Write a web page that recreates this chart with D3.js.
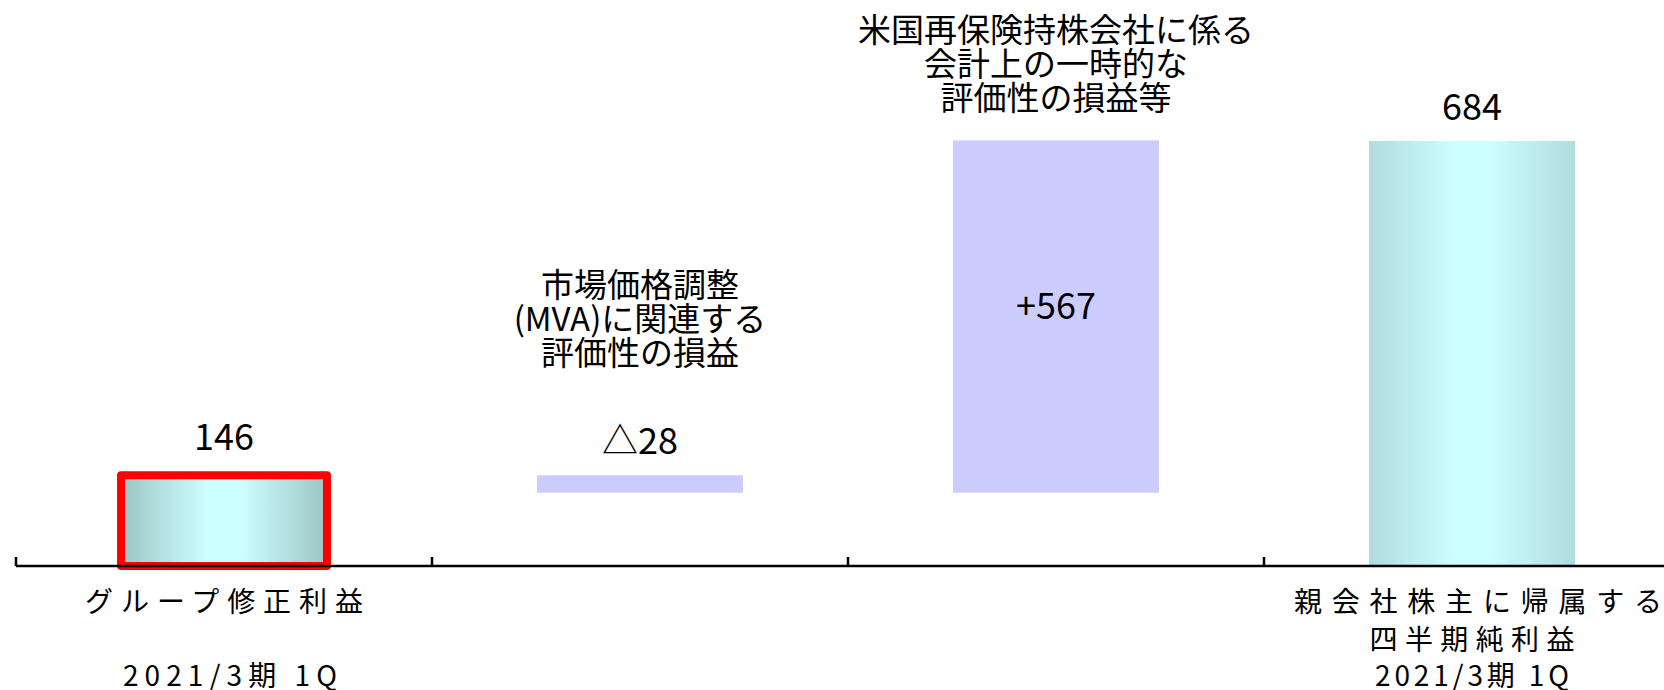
<!DOCTYPE html>
<html>
<head>
<meta charset="utf-8">
<script src="https://cdn.jsdelivr.net/npm/d3@7"></script>
<style>
  html, body { margin: 0; padding: 0; background: #fff; }
  svg { display: block; }
</style>
</head>
<body>
<script>
// ----------------------------------------------------------- //
// data

// waterfall steps, left to right
const steps = ["group", "mva", "usre", "net"];
// start total, two changes, end total
const values = [146, -28, 567, 684];
const kinds = ["total", "delta", "delta", "total"];
// text written on / above each bar
const valueLabels = ["146", "△28", "+567", "684"];
// notes over the change bars
const notes = [
  [],
  ["市場価格調整", "(MVA)に関連する", "評価性の損益"],
  ["米国再保険持株会社に係る", "会計上の一時的な", "評価性の損益等"],
  []
];
// category labels under the axis (one entry per line)
const catLabels = [
  ["グループ修正利益", "", "2021/3期 1Q"],
  [],
  [],
  ["親会社株主に帰属する", "四半期純利益", "2021/3期 1Q"]
];

// ----------------------------------------------------------- //
// layout

var width = 1664;
var height = 690;
var font = "'Noto Sans CJK JP', 'Noto Sans', sans-serif";
var axisY = 566;

// widths of the spaced-out category lines
var catWidths = [[278, 0, 214], [], [], [368, 205, 194]];
var catShift = [[0, 0, 6], [], [], [6, 0, 0]];
var catBaselines = [612, 650, 686];

var svg = d3.select("body").append("svg")
    .attr("width", width)
    .attr("height", height);

// band scaler, one slot per step
var x = d3.scaleBand()
    .domain(steps)
    .range([16, 1680])
    .padding(0);

var barW = x.bandwidth() * 0.495;

// vertical scaler
var y = d3.scaleLinear()
    .domain([0, 684])
    .range([axisY, 141]);

// running totals for the waterfall
var running = 0;
var bars = steps.map(function(s, i) {
  var v = values[i], lo, hi;
  if (kinds[i] === "total") {
    lo = 0; hi = v; running = v;
  } else {
    lo = running; hi = running + v; running = hi;
  }
  return { step: s, i: i, kind: kinds[i], from: Math.min(lo, hi), to: Math.max(lo, hi) };
});

// ----------------------------------------------------------- //
// gradients for the total bars

var defs = svg.append("defs");
function makeGrad(id, edge) {
  var g = defs.append("linearGradient").attr("id", id)
      .attr("x1", "0%").attr("x2", "100%").attr("y1", "0%").attr("y2", "0%");
  g.append("stop").attr("offset", "0%").attr("stop-color", edge);
  g.append("stop").attr("offset", "42%").attr("stop-color", "#CCFFFF");
  g.append("stop").attr("offset", "58%").attr("stop-color", "#CCFFFF");
  g.append("stop").attr("offset", "100%").attr("stop-color", edge);
}
makeGrad("grad0", "#9DC5C5");
makeGrad("grad3", "#B0DCDC");

// ----------------------------------------------------------- //
// bars

svg.selectAll("rect.bar")
  .data(bars)
  .join("rect")
    .attr("class", "bar")
    .attr("x", d => x(d.step) + (x.bandwidth() - barW) / 2)
    .attr("y", d => y(d.to))
    .attr("width", barW)
    .attr("height", d => y(d.from) - y(d.to))
    .attr("fill", d => d.kind === "total" ? "url(#grad" + d.i + ")" : "#CCCCFF")
    .attr("stroke", d => d.i === 0 ? "#FF0000" : "none")
    .attr("stroke-width", d => d.i === 0 ? 8 : 0)
    .attr("stroke-linejoin", "round");

// ----------------------------------------------------------- //
// axis line with ticks at the slot boundaries

var axis = svg.append("g").attr("class", "axis");
axis.append("line")
    .attr("x1", x(steps[0])).attr("x2", width)
    .attr("y1", axisY).attr("y2", axisY)
    .attr("stroke", "#000").attr("stroke-width", 2.5);
axis.selectAll("line.tick")
  .data(steps)
  .join("line")
    .attr("class", "tick")
    .attr("x1", d => x(d)).attr("x2", d => x(d))
    .attr("y1", axisY).attr("y2", axisY - 9)
    .attr("stroke", "#000").attr("stroke-width", 2.5);

// ----------------------------------------------------------- //
// value labels and notes

bars.forEach(function(d) {
  var cx = x(d.step) + x.bandwidth() / 2;
  var top = y(d.to), bottom = y(d.from);
  var inside = d.kind === "delta" && bottom - top > 100;
  var ly = inside ? (top + bottom) / 2 + 2 : top - 21 - (d.i === 0 ? 4 : 0);

  svg.append("text")
      .attr("x", cx)
      .attr("y", ly)
      .attr("text-anchor", "middle")
      .attr("font-family", font)
      .attr("font-size", 36)
      .attr("fill", "#000")
      .text(valueLabels[d.i]);

  var lines = notes[d.i];
  if (lines.length) {
    var lastBase = inside ? top - 30 : ly - 89;
    svg.append("g").selectAll("text")
      .data(lines)
      .join("text")
        .attr("x", cx)
        .attr("y", (t, k) => lastBase - (lines.length - 1 - k) * 34)
        .attr("text-anchor", "middle")
        .attr("font-family", font)
        .attr("font-size", 33)
        .attr("fill", "#000")
        .text(t => t);
  }

  // category labels under the axis
  catLabels[d.i].forEach(function(t, k) {
    if (!t) return;
    svg.append("text")
        .attr("x", cx + catShift[d.i][k])
        .attr("y", catBaselines[k])
        .attr("text-anchor", "middle")
        .attr("font-family", font)
        .attr("font-size", 28)
        .attr("textLength", catWidths[d.i][k])
        .attr("lengthAdjust", "spacing")
        .attr("fill", "#000")
        .text(t);
  });
});
</script>
</body>
</html>
